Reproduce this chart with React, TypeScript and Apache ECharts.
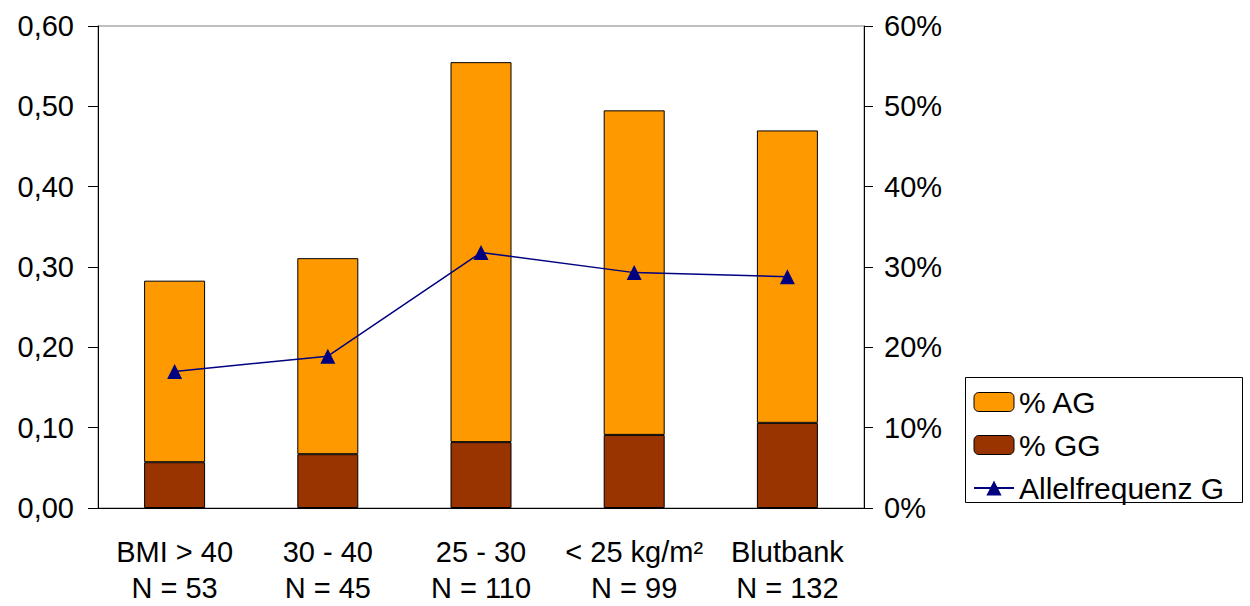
import React, { useEffect, useRef } from "react";
import * as echarts from "echarts";

// Groups (BMI classes and blood bank controls) with sample sizes
const groups = ["BMI > 40", "30 - 40", "25 - 30", "< 25 kg/m²", "Blutbank"];
const sampleSizes = [53, 45, 110, 99, 132];

// Genotype shares (fraction of group) and G allele frequency (%)
const shareGG = [0.057, 0.067, 0.082, 0.091, 0.106];
const shareAG = [0.226, 0.244, 0.473, 0.404, 0.364];
const alleleFreqG = [17.0, 18.9, 31.8, 29.3, 28.8];

const leftTicks = { min: 0, max: 0.6, interval: 0.1 };
const rightTicks = { min: 0, max: 60, interval: 10 };

const FONT = "'Liberation Sans', Arial, sans-serif";

export default function App() {
  const ref = useRef<HTMLDivElement>(null);

  useEffect(() => {
    if (!ref.current) return;
    const chart = echarts.init(ref.current, null, { renderer: "svg" });
    const categoryLabels = groups.map((g, i) => `${g}\nN = ${sampleSizes[i]}`);

    chart.setOption({
      animation: false,
      backgroundColor: "#ffffff",
      textStyle: { fontFamily: FONT },
      grid: {
        left: 98,
        right: 386,
        top: 26,
        bottom: 95,
        show: true,
        borderColor: "#808080",
        borderWidth: 1,
        backgroundColor: "transparent",
      },
      legend: {
        orient: "vertical",
        left: 973,
        top: 387,
        itemWidth: 40,
        itemHeight: 19,
        itemGap: 13,
        padding: 0,
        selectedMode: false,
        textStyle: { fontFamily: FONT, fontSize: 30, color: "#000", lineHeight: 29 },
        data: [
          { name: "% AG", itemStyle: { color: "#FF9900", borderColor: "#000", borderWidth: 1 } },
          { name: "% GG", itemStyle: { color: "#993300", borderColor: "#000", borderWidth: 1 } },
          { name: "Allelfrequenz G" },
        ],
      },
      graphic: [
        {
          type: "rect",
          shape: { x: 965.5, y: 377.5, width: 277, height: 125 },
          style: { fill: "transparent", stroke: "#000", lineWidth: 1 },
          silent: true,
          z: 0,
        },
      ],
      xAxis: {
        type: "category",
        data: categoryLabels,
        axisLine: { show: true, lineStyle: { color: "#000", width: 1 } },
        axisTick: { show: false },
        axisLabel: {
          margin: 26,
          fontFamily: FONT,
          fontSize: 29,
          color: "#000",
          lineHeight: 36,
          interval: 0,
        },
        splitLine: { show: false },
      },
      yAxis: [
        {
          type: "value",
          ...leftTicks,
          position: "left",
          axisLine: { show: true, lineStyle: { color: "#000", width: 1 } },
          axisTick: { show: true, inside: false, length: 10, lineStyle: { color: "#000" } },
          axisLabel: {
            margin: 24,
            fontFamily: FONT,
            fontSize: 29,
            color: "#000",
            formatter: (v: number) => v.toFixed(2).replace(".", ","),
          },
          splitLine: { show: false },
        },
        {
          type: "value",
          ...rightTicks,
          position: "right",
          axisLine: { show: true, lineStyle: { color: "#000", width: 1 } },
          axisTick: { show: true, inside: false, length: 9, lineStyle: { color: "#000" } },
          axisLabel: {
            margin: 20,
            fontFamily: FONT,
            fontSize: 29,
            color: "#000",
            formatter: (v: number) => `${v}%`,
          },
          splitLine: { show: false },
        },
      ],
      series: [
        {
          name: "% GG",
          type: "bar",
          stack: "genotype",
          barWidth: 61,
          data: shareGG,
          itemStyle: { color: "#993300", borderColor: "#000", borderWidth: 1 },
        },
        {
          name: "% AG",
          type: "bar",
          stack: "genotype",
          barWidth: 61,
          data: shareAG,
          itemStyle: { color: "#FF9900", borderColor: "#000", borderWidth: 1 },
        },
        {
          name: "Allelfrequenz G",
          type: "line",
          yAxisIndex: 1,
          data: alleleFreqG,
          symbol: "triangle",
          symbolSize: 15,
          lineStyle: { color: "#000080", width: 1.5 },
          itemStyle: { color: "#000080" },
          z: 5,
        },
      ],
    });

    return () => chart.dispose();
  }, []);

  return (
    <div
      ref={ref}
      style={{ position: "absolute", left: 0, top: 0, width: 1250, height: 606 }}
    />
  );
}
